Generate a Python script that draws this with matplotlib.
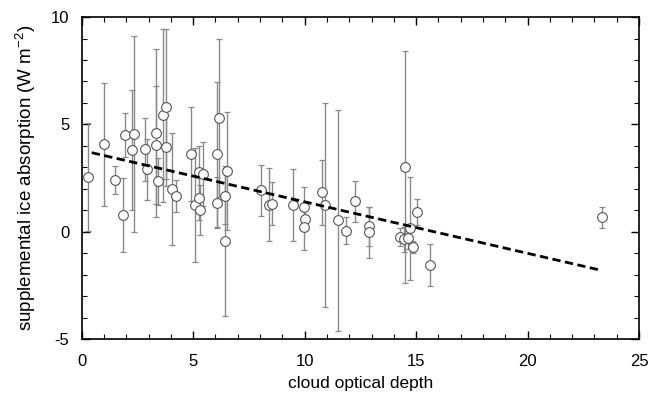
import matplotlib
matplotlib.use("Agg")
import matplotlib.pyplot as plt
import numpy as np
from matplotlib.ticker import MultipleLocator

plt.rcParams['font.family'] = ['Liberation Sans', 'DejaVu Sans']
plt.rcParams['axes.unicode_minus'] = False
plt.rcParams['mathtext.fontset'] = 'custom'
plt.rcParams['mathtext.rm'] = 'Liberation Sans'
plt.rcParams['mathtext.default'] = 'regular'

tau = [0.30, 1.00, 1.51, 1.86, 1.95, 2.25, 2.34, 2.83, 2.93, 3.31, 3.32, 3.40,
       3.65, 3.80, 3.76, 4.03, 4.24, 4.88, 5.10, 5.27, 5.28, 5.30, 5.46, 6.06,
       6.06, 6.18, 6.44, 6.44, 6.53, 8.04, 8.41, 8.53, 9.50, 9.96, 10.00, 9.96,
       10.78, 10.93, 11.50, 11.86, 12.24, 12.88, 12.88, 14.27, 14.44, 14.50,
       14.63, 14.74, 14.86, 15.06, 15.62, 23.34]
absorp = [2.55, 4.07, 2.39, 0.78, 4.50, 3.79, 4.55, 3.84, 2.90, 4.60, 4.04, 2.34,
          5.42, 5.79, 3.94, 2.00, 1.68, 3.63, 1.23, 2.80, 1.55, 1.00, 2.70, 3.60,
          1.35, 5.30, 1.68, -0.42, 2.83, 1.93, 1.26, 1.30, 1.26, 1.16, 0.59, 0.23,
          1.83, 1.24, 0.53, 0.05, 1.41, 0.25, -0.03, -0.25, -0.36, 3.00,
          -0.30, 0.16, -0.71, 0.93, -1.55, 0.67]
err = [2.50, 2.87, 0.65, 1.72, 1.04, 2.80, 4.56, 1.48, 1.43, 3.90, 2.75, 1.10,
       4.04, 3.64, 1.50, 2.62, 0.75, 2.20, 2.65, 1.20, 1.00, 1.17, 1.50, 3.39,
       1.20, 3.70, 1.30, 3.50, 2.76, 1.20, 1.70, 1.00, 1.68, 0.90, 0.50, 1.08,
       1.50, 4.75, 5.15, 0.63, 0.95, 0.90, 1.20, 0.40, 0.60, 5.40,
       0.50, 2.40, 0.30, 0.60, 1.00, 0.50]

fit_x = [0.45, 23.26]
fit_intercept = 3.79
fit_slope = -0.2398

fig = plt.figure(figsize=(6.57, 3.97), dpi=100)
ax = fig.add_axes([0.1244, 0.146, 0.8482, 0.811])

ax.errorbar(tau, absorp, yerr=err, fmt='none', ecolor='#8a8a8a', elinewidth=1.0,
            capsize=2.5, capthick=0.9, zorder=2)
ax.plot(tau, absorp, 'o', markersize=7, markerfacecolor='white',
        markeredgecolor='#555555', markeredgewidth=0.8, zorder=3)
fx = np.array(fit_x)
ax.plot(fx, fit_intercept + fit_slope * fx, linestyle=(0, (3, 1.6)), color='black',
        linewidth=2.0, zorder=4)

ax.set_xlim(0, 25)
ax.set_ylim(-5, 10)
ax.xaxis.set_major_locator(MultipleLocator(5))
ax.xaxis.set_minor_locator(MultipleLocator(1))
ax.yaxis.set_major_locator(MultipleLocator(5))
ax.yaxis.set_minor_locator(MultipleLocator(1))
ax.tick_params(which='both', direction='in', top=True, right=True, labelsize=12)
ax.tick_params(which='major', length=6, width=1)
ax.tick_params(axis='y', which='major', pad=9)
ax.tick_params(axis='x', which='major', pad=11)
ax.tick_params(which='minor', length=3.5, width=0.8)
for s in ax.spines.values():
    s.set_linewidth(1.2)

ax.set_xlabel('cloud optical depth', fontsize=12.5, labelpad=5)
ax.set_ylabel('supplemental ice absorption (W m$^{-2}$)', fontsize=13.5, labelpad=9)

fig.savefig('out.png', dpi=100)
